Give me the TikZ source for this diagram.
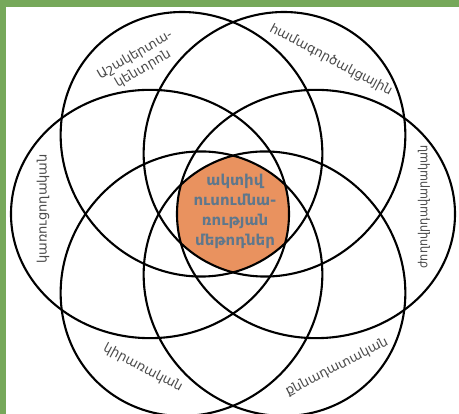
\documentclass[tikz,border=0pt]{standalone}
\usepackage{fontspec}
\setmainfont{DejaVu Sans}
\newfontfamily\condensedarm{DejaVu Sans Condensed}
\definecolor{framegreen}{HTML}{76A85A}
\definecolor{coreorange}{HTML}{E9925F}
\definecolor{labelgray}{HTML}{4A4A4A}
\definecolor{coreblue}{HTML}{5E778C}
\begin{document}
\begin{tikzpicture}[x=1pt,y=1pt,
  petal/.style={draw=black, line width=2.1pt},
  lbl/.style={text=labelgray, font=\fontsize{13}{16}\selectfont, align=center, inner sep=0pt},
  corelbl/.style={text=coreblue, font=\fontsize{15}{20}\selectfont\bfseries, align=center, inner sep=0pt}]
\def\dd{83}\def\aa{139}\def\bb{128}
\useasboundingbox (-233,212) rectangle (226,-202);
\fill[white] (-233,212) rectangle (226,-202);
\begin{scope}[yshift=-2pt, yscale=0.97]
% orange core = intersection of all petals
\begin{scope}
\clip[rotate=0]   (\dd,0) ellipse [x radius=\aa, y radius=\bb];
\clip[rotate=60]  (\dd,0) ellipse [x radius=\aa, y radius=\bb];
\clip[rotate=120] (\dd,0) ellipse [x radius=\aa, y radius=\bb];
\clip[rotate=180] (\dd,0) ellipse [x radius=\aa, y radius=\bb];
\clip[rotate=240] (\dd,0) ellipse [x radius=\aa, y radius=\bb];
\clip[rotate=300] (\dd,0) ellipse [x radius=\aa, y radius=\bb];
\fill[coreorange] (-120,-120) rectangle (120,120);
\end{scope}
\foreach \t in {0,60,...,300} {
  \draw[petal, rotate=\t] (\dd,0) ellipse [x radius=\aa, y radius=\bb];
}
\end{scope}
% frame
\fill[framegreen] (-233,212) rectangle (226,205);
\fill[framegreen] (-233,212) rectangle (-227,-202);
% labels
\node[lbl, rotate=30]  (tl) at (-94,150) {Աշակերտա-\\կենտրոն};
\node[lbl, rotate=-28] (tr) at (98,152) {համագործակցային};
\node[lbl, rotate=90]  (lf) at (-190,3) {կառուցողական};
\node[lbl, rotate=90, font=\condensedarm\fontsize{12.5}{14}\selectfont] (rt) at (191,5) {ժողովրդավարական};
\node[lbl, rotate=-28] (bl) at (-90,-156) {կիրառական};
\node[lbl, rotate=27]  (br) at (104,-155) {քննադատական};
\node[corelbl] (core) at (2,1) {ակտիվ\\ուսումնա-\\ռության\\մեթոդներ};
\end{tikzpicture}
\end{document}
